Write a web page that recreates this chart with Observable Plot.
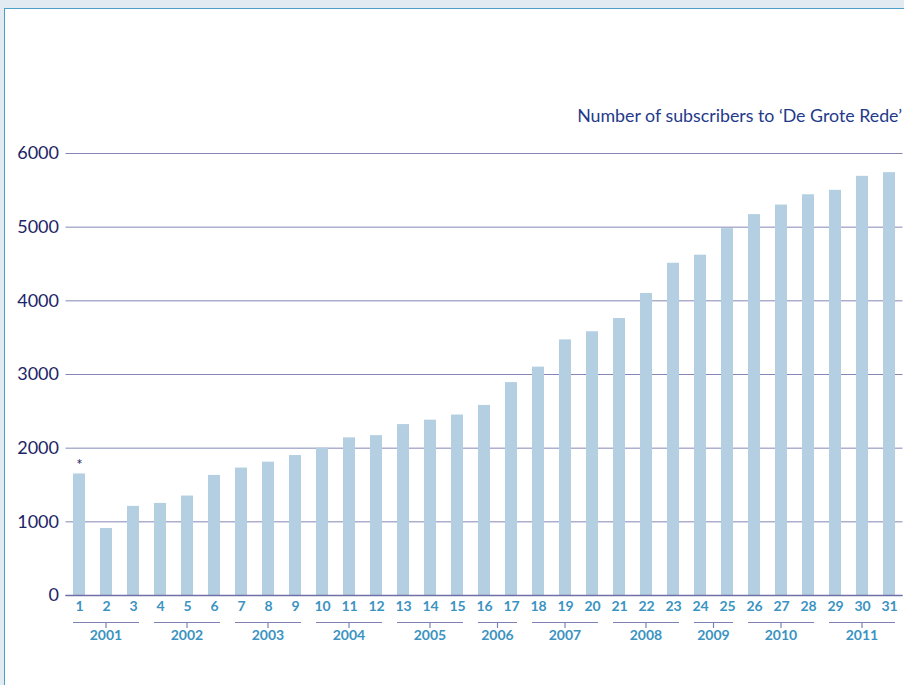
<!DOCTYPE html>
<html><head><meta charset="utf-8">
<script src="https://cdn.jsdelivr.net/npm/d3@7"></script>
<script src="https://cdn.jsdelivr.net/npm/@observablehq/plot@0.6"></script>
<style>
html,body{margin:0;padding:0;width:904px;height:685px;overflow:hidden;background:#e2eaf2;}
#panel{position:absolute;left:4px;top:8px;width:930px;height:720px;background:#fff;border:1.5px solid #4d9fc7;box-sizing:border-box;}
#title{position:absolute;right:2px;top:104px;font-family:Lato,sans-serif;font-size:17.8px;color:#1f3a8a;white-space:nowrap;}
#chart{position:absolute;left:0;top:0;}
</style></head><body>
<div id="panel"></div>
<div id="title">Number of subscribers to ‘De Grote Rede’</div>
<div id="chart"></div>
<script>
const issues = [1,2,3,4,5,6,7,8,9,10,11,12,13,14,15,16,17,18,19,20,21,22,23,24,25,26,27,28,29,30,31];
const subscribers = [1650,910,1210,1250,1350,1630,1730,1810,1900,2000,2140,2170,2320,2380,2450,2580,2890,3100,3470,3580,3760,4100,4510,4620,4980,5170,5300,5440,5500,5690,5740];
const years = [2001,2002,2003,2004,2005,2006,2007,2008,2009,2010,2011];
const yearFirst = [1,4,7,10,13,16,18,21,24,26,29];
const yearLast = [3,6,9,12,15,17,20,23,25,28,31];
const yTicks = [0,1000,2000,3000,4000,5000,6000];
const starred = [1];

const data = issues.map((n, i) => ({issue: n, value: subscribers[i]}));
const groups = years.map((y, i) => ({year: String(y), first: yearFirst[i], last: yearLast[i]}));

const labelBlue = "#3b93c1";

function yearGroups(index, scales) {
  const x = scales.x, y = scales.y;
  const bw = typeof x.bandwidth === "function" ? x.bandwidth() : (x.bandwidth || 0);
  const y0 = y(0);
  const g = d3.create("svg:g");
  for (const gr of groups) {
    const x1 = x(gr.first), x2 = x(gr.last) + bw, cx = (x1 + x2) / 2;
    g.append("line").attr("x1", x1).attr("x2", x2).attr("y1", y0 + 27.5).attr("y2", y0 + 27.5)
      .attr("stroke", "#7d80b2").attr("stroke-width", 1.2);
    g.append("line").attr("x1", cx).attr("x2", cx).attr("y1", y0 + 27.5).attr("y2", y0 + 33)
      .attr("stroke", "#7d80b2").attr("stroke-width", 1.2);
    g.append("text").attr("x", cx).attr("y", y0 + 41).attr("text-anchor", "middle")
      .attr("dominant-baseline", "middle")
      .attr("fill", labelBlue).attr("font-size", 14).attr("font-weight", "bold")
      .attr("font-family", "Lato, sans-serif").text(gr.year);
  }
  return g.node();
}

const plot = Plot.plot({
  width: 904, height: 685,
  marginLeft: 65.5, marginRight: 1.5, marginTop: 153, marginBottom: 90,
  style: {background: "transparent", fontFamily: "Lato, sans-serif", overflow: "visible"},
  x: {type: "band", domain: issues, paddingInner: 0.55, paddingOuter: 0.275, axis: null},
  y: {domain: [0, 6000], axis: null},
  marks: [
    Plot.ruleY(yTicks, {stroke: "#8487b7", strokeWidth: 1}),
    Plot.barY(data, {x: "issue", y: "value", fill: "#b3cfe1"}),
    Plot.ruleY([0], {stroke: "#6e70a6", strokeWidth: 1.3}),
    Plot.text(yTicks, {y: d => d, frameAnchor: "left", textAnchor: "end", dx: -7, text: d => String(d),
      fill: "#1c2566", fontSize: 18}),
    Plot.text(data, {x: "issue", frameAnchor: "bottom", dy: 15, text: d => String(d.issue),
      fill: labelBlue, fontSize: 14, fontWeight: "bold"}),
    Plot.text(data.filter(d => starred.includes(d.issue)), {x: "issue", y: "value", text: () => "*",
      dy: -9, fill: "#1c2566", fontSize: 15}),
    yearGroups
  ]
});
document.getElementById("chart").appendChild(plot);
</script>
</body></html>
